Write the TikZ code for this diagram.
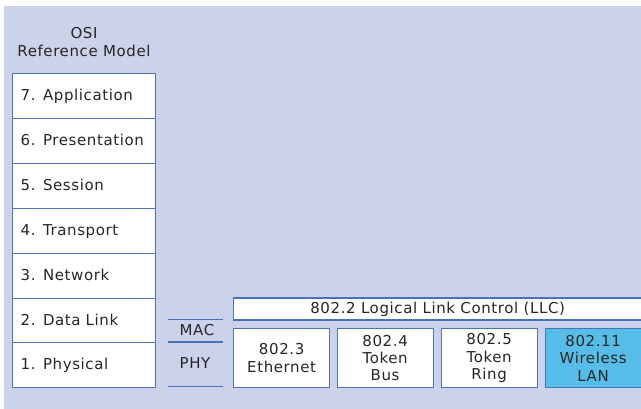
\documentclass[tikz,border=0pt]{standalone}
\usepackage{fontspec}
\setmainfont[LetterSpace=4]{DejaVu Sans}
\definecolor{bg}{HTML}{CCD2EA}
\definecolor{bd}{HTML}{4A72B8}
\definecolor{wl}{HTML}{56BDE8}
\begin{document}
\begin{tikzpicture}[x=1pt,y=-1pt,
  txt/.style={font=\fontsize{15}{17.3}\selectfont, text=black!85},
  layer/.style={draw=bd, line width=1.3pt, fill=white, minimum width=143pt, minimum height=45pt, anchor=north west, text width=127pt, text height=10.8pt, text depth=3pt, align=left, inner sep=8pt, txt},
  lanbox/.style={draw=bd, line width=1.3pt, fill=white, minimum width=96pt, minimum height=59pt, anchor=north west, align=center, inner sep=0pt, txt},
  sep/.style={draw=bd, line width=1.3pt}]
\useasboundingbox (0,0) rectangle (641,409);
\fill[white] (0,0) rectangle (641,409);
\fill[bg] (4,6) rectangle (641,409);
\node[txt, align=center] (title) at (84,42) {OSI\\Reference Model};
\node[layer] (l7) at (12,73) {7. Application};
\node[layer] (l6) at (12,118) {6. Presentation};
\node[layer] (l5) at (12,163) {5. Session};
\node[layer] (l4) at (12,208) {4. Transport};
\node[layer] (l3) at (12,253) {3. Network};
\node[layer] (l2) at (12,298) {2. Data Link};
\node[layer] (l1) at (12,342) {1. Physical};
\coordinate (a1) at (168,319.5);
\coordinate (b1) at (223,319.5);
\coordinate (a2) at (168,342);
\coordinate (b2) at (223,342);
\coordinate (a3) at (168,386.5);
\coordinate (b3) at (223,386.5);
\draw[sep] (a1) -- (b1);
\draw[sep] (a2) -- (b2);
\draw[sep] (a3) -- (b3);
\node[txt] (mac) at (197,330) {MAC};
\node[txt] (phy) at (195,363) {PHY};
\node[draw=bd, line width=1.3pt, fill=white, minimum width=408pt, minimum height=22pt, anchor=north west, inner sep=0pt, txt] (llc) at (233,297.5) {802.2 Logical Link Control (LLC)};
\node[lanbox] (e3) at (233,328) {802.3\\Ethernet};
\node[lanbox] (e4) at (336.5,328) {802.4\\Token\\Bus};
\node[lanbox] (e5) at (440.5,328) {802.5\\Token\\Ring};
\node[lanbox, fill=wl] (e11) at (544.5,328) {802.11\\Wireless\\LAN};
\end{tikzpicture}
\end{document}
